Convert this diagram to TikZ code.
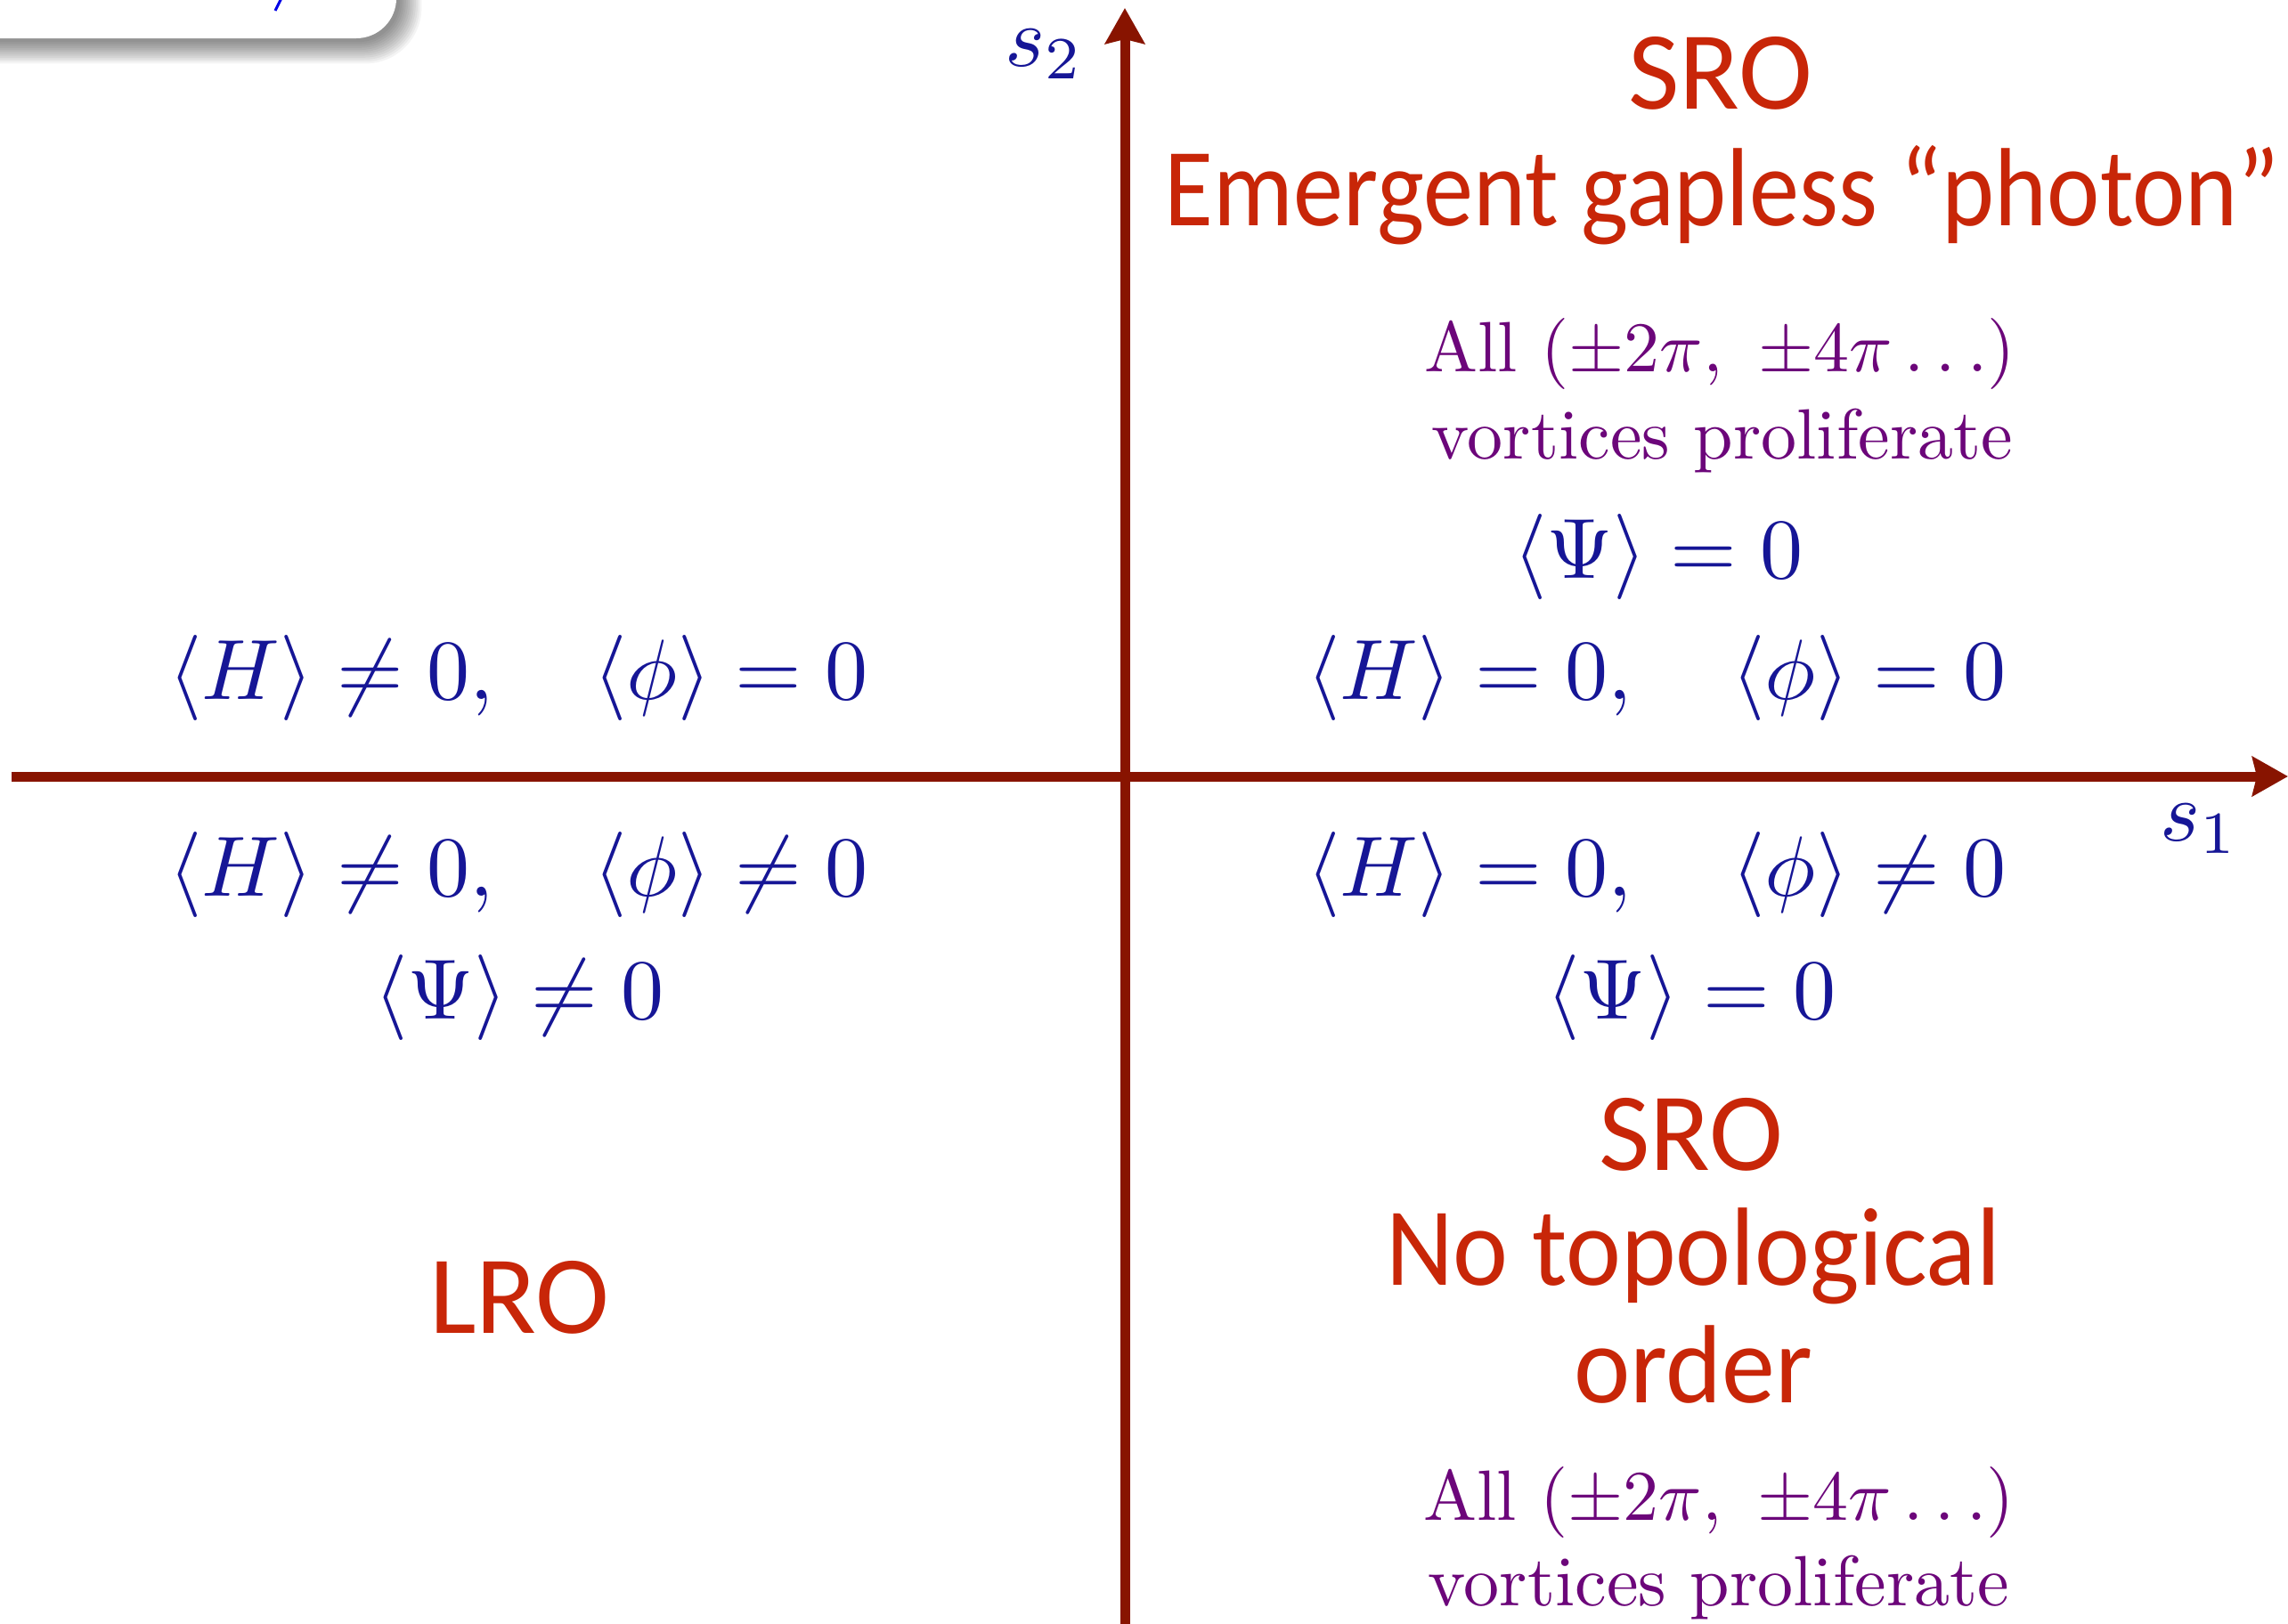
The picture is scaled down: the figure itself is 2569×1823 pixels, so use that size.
\RequirePackage{fix-cm}
\documentclass[tikz,border=0pt]{standalone}
\usepackage{graphicx}
\usepackage{fontspec}
\newfontfamily\gillfont{Carlito}
\usetikzlibrary{arrows.meta}
\definecolor{axisred}{RGB}{136,20,0}
\definecolor{textred}{RGB}{200,38,8}
\definecolor{mathblue}{RGB}{22,22,150}
\definecolor{vortpurple}{RGB}{108,6,122}
\definecolor{fragblue}{RGB}{0,0,230}
\newcommand{\bigmathlbl}[1]{\scalebox{9.6}{#1}}
\newcommand{\purplbltext}[1]{\scalebox{8}{#1}}
\newcommand{\squeezeto}[2]{\resizebox{#1}{\height}{#2}}
\tikzset{
  redlbl/.style={text=textred, font=\gillfont\fontsize{125}{150}\selectfont, anchor=base, inner sep=0pt},
  mathlbl/.style={text=mathblue, inner sep=0pt},
  axislbl/.style={text=mathblue, inner sep=0pt, anchor=base},
  purplbl/.style={text=vortpurple, inner sep=0pt},
  axisline/.style={draw=axisred, line width=11pt, -{Stealth[length=40pt,width=44pt,inset=5pt]}},
  boxshadow/.style={fill=black, opacity=0.045},
}
\begin{document}
\begin{tikzpicture}[x=1pt,y=-1pt]
\useasboundingbox (0,0) rectangle (2569,1823);
\clip (0,0) rectangle (2569,1823);
\fill[white] (0,0) rectangle (2569,1823);

% partial rounded box with shadow, top-left corner
\foreach \i in {1,...,12} {
  \fill[boxshadow, rounded corners=45pt+\i*1.5pt] (-150,-150) rectangle ({447+\i*2.2},{45+\i*2.2});
}
\fill[white, rounded corners=45pt] (-150,-150) rectangle (445,43);
\draw[fragblue, line width=3pt] (316,-2) -- (309,12);

% axes
\coordinate (xstart) at (13,872);
\coordinate (xend) at (2569,872);
\coordinate (ybot) at (1263,1840);
\coordinate (ytop) at (1263,9);
\draw[axisline] (xstart) -- (xend);
\draw[axisline] (ybot) -- (ytop);

\node[axislbl] (s2) at (1173,74) {\bigmathlbl{$s_2$}};
\node[axislbl] (s1) at (2470,944) {\bigmathlbl{$s_1$}};

% upper right quadrant
\node[redlbl] (sroA) at (1932,122) {SRO};
\node[redlbl] (emerg) at (1934,253) {\squeezeto{1252pt}{Emergent gapless “photon”}};
\node[purplbl] (allA) at (1931,397) {\purplbltext{All $(\pm 2\pi,\ \pm 4\pi\ldots)$}};
\node[purplbl, anchor=base] (vortA) at (1934,515) {\purplbltext{vortices proliferate}};
\node[mathlbl] (psiUR) at (1862,625) {\bigmathlbl{$\langle \Psi\rangle = 0$}};
\node[mathlbl] (hUR) at (1860,761) {\bigmathlbl{$\langle H\rangle = 0,\quad \langle\phi\rangle = 0$}};

% upper left quadrant
\node[mathlbl] (hUL) at (582,761) {\bigmathlbl{$\langle H\rangle \neq 0,\quad \langle\phi\rangle = 0$}};

% lower left quadrant
\node[mathlbl] (hLL) at (582,982) {\bigmathlbl{$\langle H\rangle \neq 0,\quad \langle\phi\rangle \neq 0$}};
\node[mathlbl] (psiLL) at (583,1120) {\bigmathlbl{$\langle \Psi\rangle \neq 0$}};
\node[redlbl] (lro) at (583,1497) {LRO};

% lower right quadrant
\node[mathlbl] (hLR) at (1860,982) {\bigmathlbl{$\langle H\rangle = 0,\quad \langle\phi\rangle \neq 0$}};
\node[mathlbl] (psiLR) at (1899,1120) {\bigmathlbl{$\langle \Psi\rangle = 0$}};
\node[redlbl] (sroB) at (1899,1314) {SRO};
\node[redlbl] (notopo) at (1901,1443) {\squeezeto{690pt}{No topological}};
\node[redlbl] (order) at (1901,1575) {\squeezeto{268pt}{order}};
\node[purplbl] (allB) at (1930,1687) {\purplbltext{All $(\pm 2\pi,\ \pm 4\pi\ldots)$}};
\node[purplbl, anchor=base] (vortB) at (1930,1803) {\purplbltext{vortices proliferate}};
\end{tikzpicture}
\end{document}
